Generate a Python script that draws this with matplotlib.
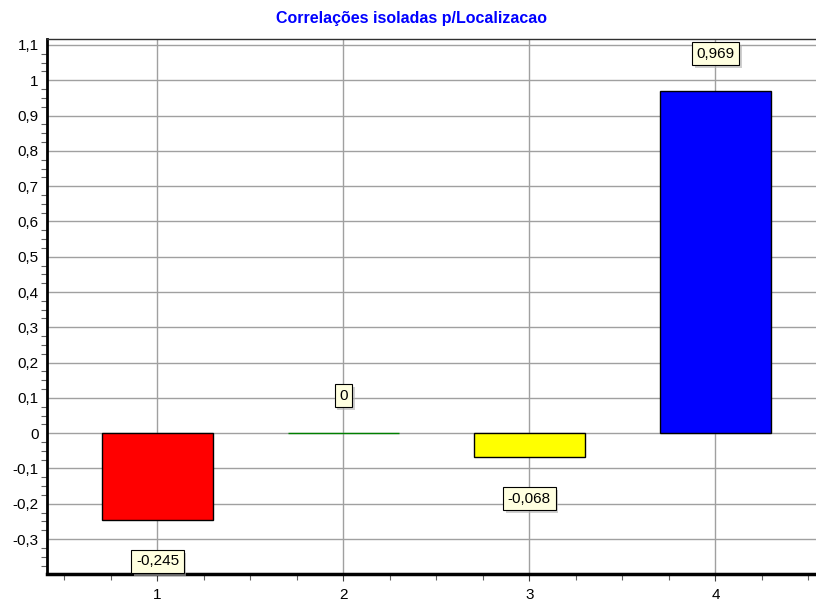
import matplotlib
matplotlib.use("Agg")
import matplotlib.pyplot as plt
import matplotlib.patheffects as pe
from matplotlib.ticker import MultipleLocator, FuncFormatter

categories = [1, 2, 3, 4]
values = [-0.245, 0.0, -0.068, 0.969]
colors = ["#ff0000", "#008000", "#ffff00", "#0000ff"]
title = "Correlações isoladas p/Localizacao"

plt.rcParams["font.family"] = ["Liberation Sans", "DejaVu Sans"]

fig = plt.figure(figsize=(8.16, 6.06), dpi=100)
ax = fig.add_axes([47 / 816, 1 - 574 / 606, 1 - 47 / 816, (574 - 39) / 606])

edgecols = ["black" if v != 0 else c for v, c in zip(values, colors)]
ax.bar(categories, values, width=0.6, color=colors, edgecolor=edgecols,
       linewidth=1, zorder=3)

ax.set_xlim(0.406, 4.541)
ax.set_ylim(-0.399, 1.117)

ax.xaxis.set_major_locator(MultipleLocator(1))
ax.xaxis.set_minor_locator(MultipleLocator(0.25))
ax.yaxis.set_major_locator(MultipleLocator(0.1))
ax.yaxis.set_minor_locator(MultipleLocator(0.025))

def fmt(v, pos):
    s = f"{v:.1f}".rstrip("0").rstrip(".")
    if s in ("-0", ""):
        s = "0"
    return s.replace(".", ",")

ax.yaxis.set_major_formatter(FuncFormatter(fmt))
ax.xaxis.set_major_formatter(FuncFormatter(lambda v, p: f"{int(round(v))}"))

ax.grid(True, which="major", color="#a0a0a0", linewidth=1, zorder=0)
ax.set_axisbelow(True)

ax.tick_params(axis="y", which="major", length=0, pad=6, labelsize=11, colors="black")
ax.tick_params(axis="y", which="minor", length=4, width=0.8, color="#606060")
ax.tick_params(axis="x", which="major", length=5, width=0.8, pad=5, labelsize=11, color="#404040")
ax.tick_params(axis="x", which="minor", length=4, width=0.8, color="#606060")

ax.spines["left"].set_linewidth(2)
ax.spines["bottom"].set_linewidth(2.5)
ax.spines["top"].set_linewidth(1)
ax.spines["top"].set_color("#303030")
ax.spines["right"].set_visible(False)

for x, v in zip(categories, values):
    if v >= 0:
        off = 27
    else:
        off = -30
    t = ax.annotate(f"{v:.3f}".rstrip("0").rstrip(".").replace(".", ",") if v != 0 else "0",
                    xy=(x, v), xytext=(0, off), textcoords="offset points",
                    ha="center", va="center", fontsize=11, zorder=5,
                    bbox=dict(boxstyle="square,pad=0.3", facecolor="#ffffe0",
                              edgecolor="black", linewidth=0.8))
    t.get_bbox_patch().set_path_effects([
        pe.withSimplePatchShadow(offset=(2, -2), shadow_rgbFace="#b0b0b0", alpha=0.6)])

fig.text(412 / 816, 1 - 19 / 606, title, ha="center", va="center",
         fontsize=11.5, fontweight="bold", color="#0000ff")

fig.savefig("out.png", dpi=100)
